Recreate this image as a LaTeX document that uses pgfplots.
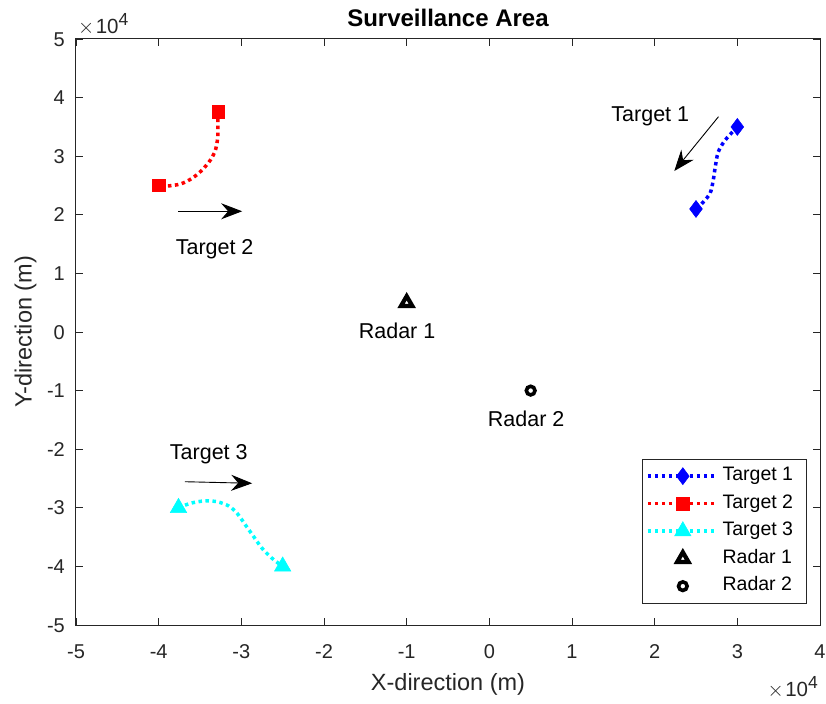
\documentclass[border=0pt]{standalone}
\usepackage{pgfplots}
\pgfplotsset{compat=1.18}
\usepackage{pgfplotstable}
\usepackage{fontspec}
\setmainfont{Liberation Sans}
\usetikzlibrary{arrows.meta}

\definecolor{axgray}{rgb}{0.15,0.15,0.15}
\definecolor{tcyan}{rgb}{0,1,1}

% Target trajectories (m)
\pgfplotstableread{
x y
30000 35000
28540 32760
27690 30720
27330 28160
27090 25940
26720 23720
25880 22180
25000 21000
}\trackA
\pgfplotstableread{
x y
-32800 37600
-32850 35600
-32850 33300
-33130 31060
-33740 29350
-34740 27650
-35950 26230
-37360 25260
-38970 24910
-40000 25000
}\trackB
\pgfplotstableread{
x y
-37600 -30000
-36150 -29230
-34550 -28840
-32930 -28960
-31520 -29690
-30510 -30940
-29500 -32940
-28500 -34930
-27490 -36910
-26280 -38620
-25000 -40000
}\trackC

\tikzset{
  tgt/.style={line width=3.5pt, dash pattern=on 3.5pt off 3.5pt, line cap=butt},
  arr/.style={line width=0.9pt, -{Stealth[length=21pt, width=16pt, inset=7pt]}},
  ann/.style={font=\fontsize{21.5}{26}\selectfont, text=black, inner sep=0pt},
}
\newcommand{\expten}{{\fontsize{20.5}{24}\selectfont $\times$\hspace{1.5pt}10\raisebox{8pt}{\fontsize{17.5}{19}\selectfont 4}}}

\begin{document}
\begin{tikzpicture}
\begin{axis}[
  name=ax,
  scale only axis, width=744pt, height=586pt,
  xmin=-50000, xmax=40000, ymin=-50000, ymax=50000,
  scaled ticks=false,
  xtick={-50000,-40000,-30000,-20000,-10000,0,10000,20000,30000,40000},
  xticklabels={-5,-4,-3,-2,-1,0,1,2,3,4},
  ytick={-50000,-40000,-30000,-20000,-10000,0,10000,20000,30000,40000,50000},
  yticklabels={-5,-4,-3,-2,-1,0,1,2,3,4,5},
  tick align=inside,
  major tick length=7pt,
  axis line style={draw=axgray, line width=1pt},
  major tick style={draw=axgray, line width=0.8pt},
  ticklabel style={font=\fontsize{20}{24}\selectfont, text=axgray, inner sep=0pt},
  xticklabel style={anchor=base, yshift=-33.6pt},
  yticklabel style={anchor=base east, xshift=-11pt, yshift=-7.2pt},
  xlabel={X-direction (m)},
  ylabel={Y-direction (m)},
  every axis x label/.style={at={(axis description cs:0.5,-0.1126)}, anchor=base,
    font=\fontsize{23.5}{28}\selectfont, text=axgray},
  every axis y label/.style={at={(axis description cs:-0.0595,0.5)}, rotate=90, anchor=base,
    font=\fontsize{23.5}{28}\selectfont, text=axgray},
  title={Surveillance Area},
  every axis title/.style={at={(axis description cs:0.5,1.021)}, anchor=base,
    font=\fontsize{24}{28}\selectfont\bfseries, text=black},
  legend image code/.code={\draw[mark repeat=2,mark phase=2,#1] plot coordinates {(0pt,0pt) (35pt,0pt) (70pt,0pt)};},
  legend cell align=left,
  legend style={at={(axis description cs:0.9825,0.037)}, anchor=south east,
    draw=axgray, line width=0.8pt, fill=white,
    inner xsep=4pt, inner ysep=6pt, row sep=6pt, column sep=1pt,
    font=\fontsize{19.5}{23}\selectfont,
    nodes={inner sep=2pt, text height=13.5pt, text depth=4pt}},
  clip=false,
]

% Target 1
\addplot[tgt, blue, smooth, forget plot] table {\trackA};
\addplot[only marks, blue, mark=diamond*, mark size=8.5pt, mark options={solid, line width=0.5pt},
  mark indices={1,8}, forget plot] table {\trackA};
\addlegendimage{tgt, blue, mark=diamond*, mark size=8.5pt, mark options={solid, line width=0.5pt}}
\addlegendentry{\makebox[78pt][l]{Target 1}}

% Target 2
\addplot[tgt, red, smooth, forget plot] table {\trackB};
\addplot[only marks, red, mark=square*, mark size=6.2pt, mark options={solid, line width=0.5pt},
  mark indices={1,10}, forget plot] table {\trackB};
\addlegendimage{tgt, red, mark=square*, mark size=6.2pt, mark options={solid, line width=0.5pt}}
\addlegendentry{Target 2}

% Target 3
\addplot[tgt, tcyan, smooth, forget plot] table {\trackC};
\addplot[only marks, tcyan, mark=triangle*, mark size=9.5pt, mark options={solid, line width=0.5pt},
  mark indices={1,11}, forget plot] table {\trackC};
\addlegendimage{tgt, tcyan, mark=triangle*, mark size=9.5pt, mark options={solid, line width=0.5pt}}
\addlegendentry{Target 3}

% Radars
\addplot[only marks, black, mark=triangle, mark size=6.5pt, mark options={solid, line width=4.2pt}]
  coordinates {(-10000,5000)};
\addlegendentry{Radar 1}
\addplot[only marks, black, mark=o, mark size=4.3pt, mark options={solid, line width=3.6pt}]
  coordinates {(5000,-10000)};
\addlegendentry{Radar 2}

% Heading arrows and labels
\draw[arr] (axis cs:27720,36740) -- (axis cs:22370,27470);
\draw[arr] (axis cs:-37640,20600) -- (axis cs:-29900,20600);
\draw[arr] (axis cs:-36840,-25550) -- (axis cs:-28690,-25820);
\node[ann, anchor=base] at (axis cs:19470,35890) {Target 1};
\node[ann, anchor=base] at (axis cs:-33230,13140) {Target 2};
\node[ann, anchor=base] at (axis cs:-33940,-21840) {Target 3};
\node[ann, anchor=base] at (axis cs:-11160,-1080) {Radar 1};
\node[ann, anchor=base] at (axis cs:4450,-16160) {Radar 2};

% Exponent labels
\node[anchor=base west, text=axgray, inner sep=0pt]
  at (axis description cs:0.0027,1.0102) {\expten};
\node[anchor=base east, text=axgray, inner sep=0pt]
  at (axis description cs:0.9973,-0.1217) {\expten};
\end{axis}
\pgfresetboundingbox
\path ([shift={(-76pt,-78.3pt)}]ax.south west) rectangle ([shift={(6pt,39pt)}]ax.north east);
\end{tikzpicture}
\end{document}
